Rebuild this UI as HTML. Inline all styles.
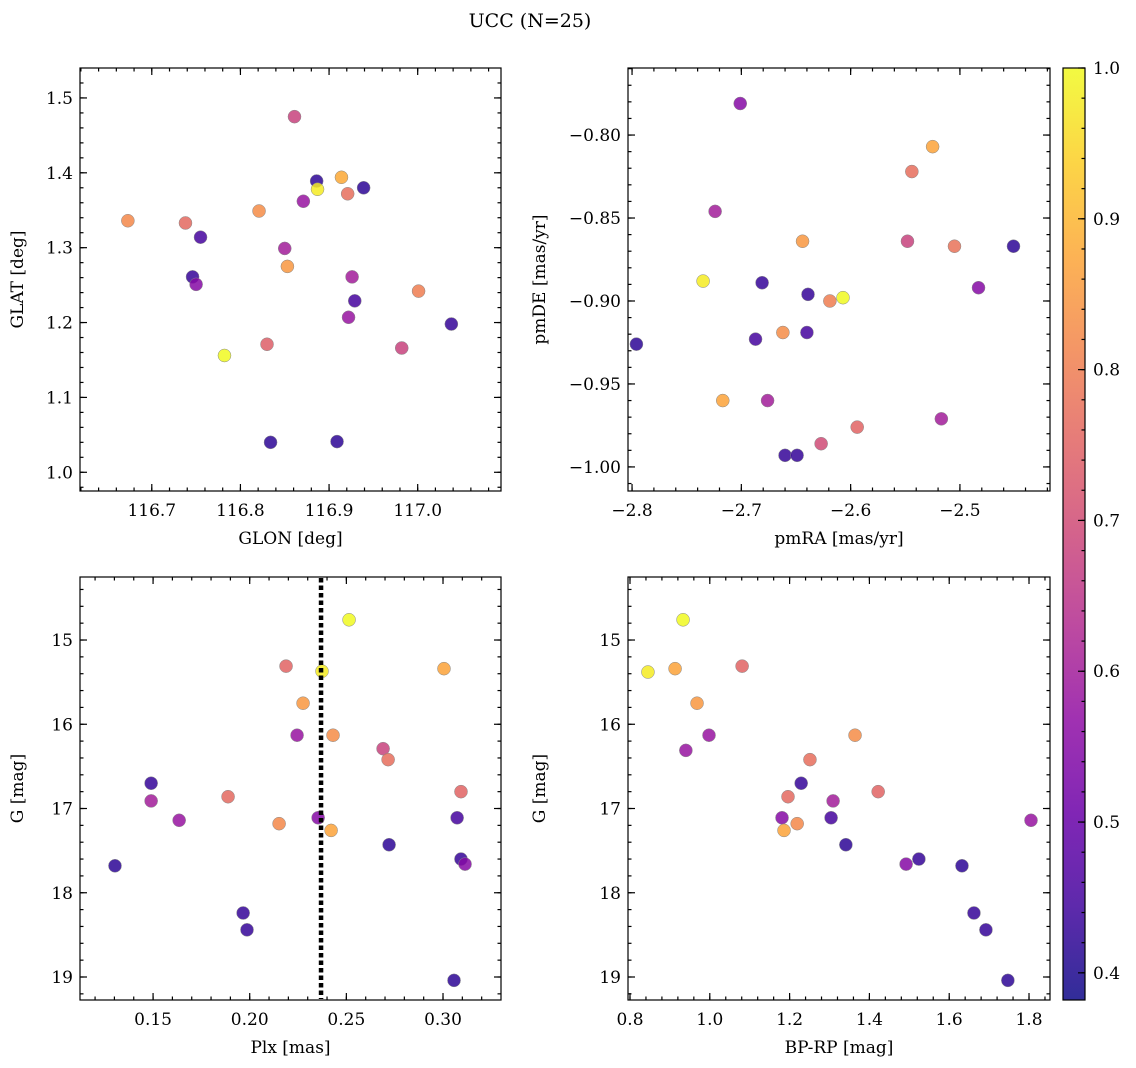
<!DOCTYPE html>
<html><head><meta charset="utf-8"><style>
body{margin:0;background:#fff;}
svg{display:block;font-family:"DejaVu Serif","Liberation Serif",serif;}
</style></head><body>
<svg id="fig" width="1136" height="1068" viewBox="0 0 1136 1068" xmlns="http://www.w3.org/2000/svg">
<text x="530" y="27" font-size="19" text-anchor="middle">UCC (N=25)</text>
</svg>
<script>
// top-left: GLON vs GLAT
const glon=[116.673,116.738,116.755,116.746,116.750,116.782,116.821,116.830,116.834,116.850,116.853,116.861,116.871,116.886,116.887,116.909,116.914,116.921,116.926,116.922,116.929,116.939,116.982,117.001,117.038];
const glat=[1.336,1.333,1.314,1.261,1.251,1.156,1.349,1.171,1.040,1.299,1.275,1.475,1.362,1.389,1.378,1.041,1.394,1.372,1.261,1.207,1.229,1.380,1.166,1.242,1.198];
const probTL=[0.82,0.76,0.45,0.43,0.55,1.0,0.83,0.74,0.42,0.6,0.85,0.68,0.58,0.42,0.98,0.42,0.88,0.77,0.6,0.58,0.45,0.42,0.68,0.8,0.43];
// top-right: pmRA vs pmDE
const pmra=[-2.701,-2.724,-2.525,-2.544,-2.548,-2.505,-2.451,-2.483,-2.644,-2.735,-2.681,-2.639,-2.619,-2.607,-2.662,-2.640,-2.687,-2.796,-2.717,-2.676,-2.594,-2.517,-2.627,-2.660,-2.649];
const pmde=[-0.781,-0.846,-0.807,-0.822,-0.864,-0.867,-0.867,-0.892,-0.864,-0.888,-0.889,-0.896,-0.900,-0.898,-0.919,-0.919,-0.923,-0.926,-0.960,-0.960,-0.976,-0.971,-0.986,-0.993,-0.993];
const probTR=[0.55,0.6,0.87,0.77,0.68,0.78,0.42,0.55,0.85,0.98,0.43,0.43,0.8,1.0,0.83,0.45,0.45,0.42,0.87,0.6,0.75,0.6,0.7,0.43,0.43];
// bottom-left: Plx vs G
const plx=[0.2514,0.2374,0.3005,0.2188,0.2276,0.2245,0.2431,0.2690,0.2716,0.149,0.149,0.1888,0.3093,0.1635,0.2152,0.2354,0.2421,0.3073,0.2721,0.1303,0.3093,0.3114,0.1966,0.1986,0.3057];
const gmagBL=[14.76,15.37,15.34,15.31,15.75,16.13,16.13,16.29,16.42,16.70,16.91,16.86,16.80,17.14,17.18,17.11,17.26,17.11,17.43,17.68,17.60,17.66,18.24,18.44,19.04];
const probBL=[1.0,0.98,0.87,0.75,0.85,0.58,0.83,0.68,0.77,0.43,0.6,0.76,0.75,0.58,0.82,0.55,0.87,0.45,0.42,0.42,0.43,0.55,0.43,0.43,0.42];
const plxLine=[0.2369];
// bottom-right: BP-RP vs G
const bprp=[0.933,0.845,0.913,0.968,1.081,0.940,0.998,1.364,1.251,1.229,1.196,1.309,1.422,1.181,1.304,1.186,1.219,1.341,1.524,1.492,1.632,1.805,1.662,1.692,1.747];
const gmagBR=[14.76,15.38,15.34,15.75,15.31,16.31,16.13,16.13,16.42,16.70,16.86,16.91,16.80,17.11,17.11,17.26,17.18,17.43,17.60,17.66,17.68,17.14,18.24,18.44,19.04];
const probBR=[1.0,0.98,0.87,0.85,0.75,0.58,0.58,0.83,0.77,0.43,0.76,0.6,0.75,0.55,0.45,0.87,0.82,0.42,0.43,0.55,0.42,0.58,0.43,0.43,0.42];
// tick labels
const ticksTLx=[116.7,116.8,116.9,117.0], ticksTLy=[1.0,1.1,1.2,1.3,1.4,1.5];
const ticksTRx=[-2.8,-2.7,-2.6,-2.5], ticksTRy=[-1.00,-0.95,-0.90,-0.85,-0.80];
const ticksBLx=[0.15,0.20,0.25,0.30], ticksGy=[15,16,17,18,19];
const ticksBRx=[0.8,1.0,1.2,1.4,1.6,1.8];
const ticksCbar=[0.4,0.5,0.6,0.7,0.8,0.9,1.0];
const cmin=0.382,cmax=1.0;

const NS="http://www.w3.org/2000/svg";
const svg=document.getElementById('fig');
const FS=17;
function mk(tag,attrs,parent){const e=document.createElementNS(NS,tag);for(const k in attrs)e.setAttribute(k,attrs[k]);(parent||svg).appendChild(e);return e;}
const stops=[[13,8,135],[65,4,157],[106,0,168],[143,13,164],[177,42,144],[204,71,120],[225,100,98],[242,132,75],[252,166,54],[252,206,37],[240,249,33]];
function plasma(t){t=Math.max(0,Math.min(1,t))*10;const i=Math.min(9,Math.floor(t)),f=t-i;const a=stops[i],b=stops[i+1];return `rgb(${a.map((v,k)=>Math.round(v+(b[k]-v)*f)).join(',')})`;}
function cmap(c){return plasma((c-cmin)/(cmax-cmin));}
function fmt(v,d){return v.toFixed(d).replace('-','\u2212');}

function panel(name,box,xr,yr,xt,yt,xd,yd,xminor,yminor,xlabel,ylabel,xs,ys,cs){
  const [L,T,R,B]=box;
  const sx=v=>L+(v-xr[0])/(xr[1]-xr[0])*(R-L);
  const sy=v=>T+(v-yr[0])/(yr[1]-yr[0])*(B-T);
  const g=mk('g',{});
  
  
  for(let i=0;i<xs.length;i++){
    const c=mk('circle',{cx:sx(xs[i]),cy:sy(ys[i]),r:6.5,fill:cmap(cs[i]),'fill-opacity':0.85,stroke:'#888','stroke-width':0.5},g);
    
    
  }
  const ax=mk('g',{stroke:'#000','stroke-width':1.2},g);
  
  
  mk('rect',{x:L,y:T,width:R-L,height:B-T,fill:'none'},ax);
  const xlo=Math.min(...xr),xhi=Math.max(...xr),ylo=Math.min(...yr),yhi=Math.max(...yr);
  for(let v=Math.ceil(xlo/xminor-1e-6)*xminor;v<=xhi;v+=xminor){const x=sx(v);mk('line',{x1:x,x2:x,y1:B,y2:B-3.5},ax);mk('line',{x1:x,x2:x,y1:T,y2:T+3.5},ax);}
  for(let v=Math.ceil(ylo/yminor-1e-6)*yminor;v<=yhi;v+=yminor){const y=sy(v);mk('line',{x1:L,x2:L+3.5,y1:y,y2:y},ax);mk('line',{x1:R,x2:R-3.5,y1:y,y2:y},ax);}
  xt.forEach(v=>{const x=sx(v);mk('line',{x1:x,x2:x,y1:B,y2:B-7},ax);mk('line',{x1:x,x2:x,y1:T,y2:T+7},ax);
    const t=mk('text',{x:x,y:B+25,'font-size':FS,'text-anchor':'middle'},g);t.textContent=fmt(v,xd);
    });
  yt.forEach(v=>{const y=sy(v);mk('line',{x1:L,x2:L+7,y1:y,y2:y},ax);mk('line',{x1:R,x2:R-7,y1:y,y2:y},ax);
    const t=mk('text',{x:L-7,y:y+6,'font-size':FS,'text-anchor':'end'},g);t.textContent=fmt(v,yd);
    });
  const xl=mk('text',{x:(L+R)/2,y:B+53,'font-size':FS,'text-anchor':'middle'},g);xl.textContent=xlabel;
  
  const lx=name.includes('left')?23:545;
  const yl=mk('text',{x:lx,y:(T+B)/2,'font-size':FS,'text-anchor':'middle',transform:`rotate(-90 ${lx} ${(T+B)/2})`},g);yl.textContent=ylabel;
  
  return {sx,sy,g};
}
panel('panel-top-left',[80,68,501,491],[116.619,117.094],[1.540,0.975],ticksTLx,ticksTLy,1,1,0.02,0.02,'GLON [deg]','GLAT [deg]',glon,glat,probTL);
panel('panel-top-right',[628,68,1050,491],[-2.8037,-2.4176],[-0.7596,-1.0145],ticksTRx,ticksTRy,1,2,0.02,0.01,'pmRA [mas/yr]','pmDE [mas/yr]',pmra,pmde,probTR);
const bl=panel('panel-bottom-left',[80,577,501,1000],[0.1122,0.3300],[14.252,19.273],ticksBLx,ticksGy,2,0,0.01,0.2,'Plx [mas]','G [mag]',plx,gmagBL,probBL);
plxLine.forEach(v=>{const l=mk('line',{x1:bl.sx(v),x2:bl.sx(v),y1:578,y2:999,stroke:'#000','stroke-width':4.5,'stroke-dasharray':'4.5 3'},bl.g);
  });
panel('panel-bottom-right',[628,577,1050,1000],[0.795,1.8526],[14.252,19.273],ticksBRx,ticksGy,1,0,0.04,0.2,'BP-RP [mag]','G [mag]',bprp,gmagBR,probBR);

// colorbar
const cb=mk('g',{});


const defs=mk('defs',{},svg);
const lg=mk('linearGradient',{id:'pl',x1:0,y1:1,x2:0,y2:0},defs);
for(let i=0;i<=20;i++)mk('stop',{offset:i/20,'stop-color':plasma(i/20),'stop-opacity':0.85},lg);
const cT=68,cB=1000,cL=1063,cR=1085;
mk('rect',{x:cL,y:cT,width:cR-cL,height:cB-cT,fill:'url(#pl)',stroke:'#000','stroke-width':1.2},cb);
const cy=v=>cB-(v-cmin)/(cmax-cmin)*(cB-cT);
for(let v=0.4;v<=1.0001;v+=0.02)mk('line',{x1:cR,x2:cR-3.5,y1:cy(v),y2:cy(v),stroke:'#000','stroke-width':1.2},cb);
ticksCbar.forEach(v=>{mk('line',{x1:cR,x2:cR-7,y1:cy(v),y2:cy(v),stroke:'#000','stroke-width':1.2},cb);
  const t=mk('text',{x:cR+8,y:cy(v)+6,'font-size':FS},cb);t.textContent=v.toFixed(1);
  });
</script>
</body></html>
